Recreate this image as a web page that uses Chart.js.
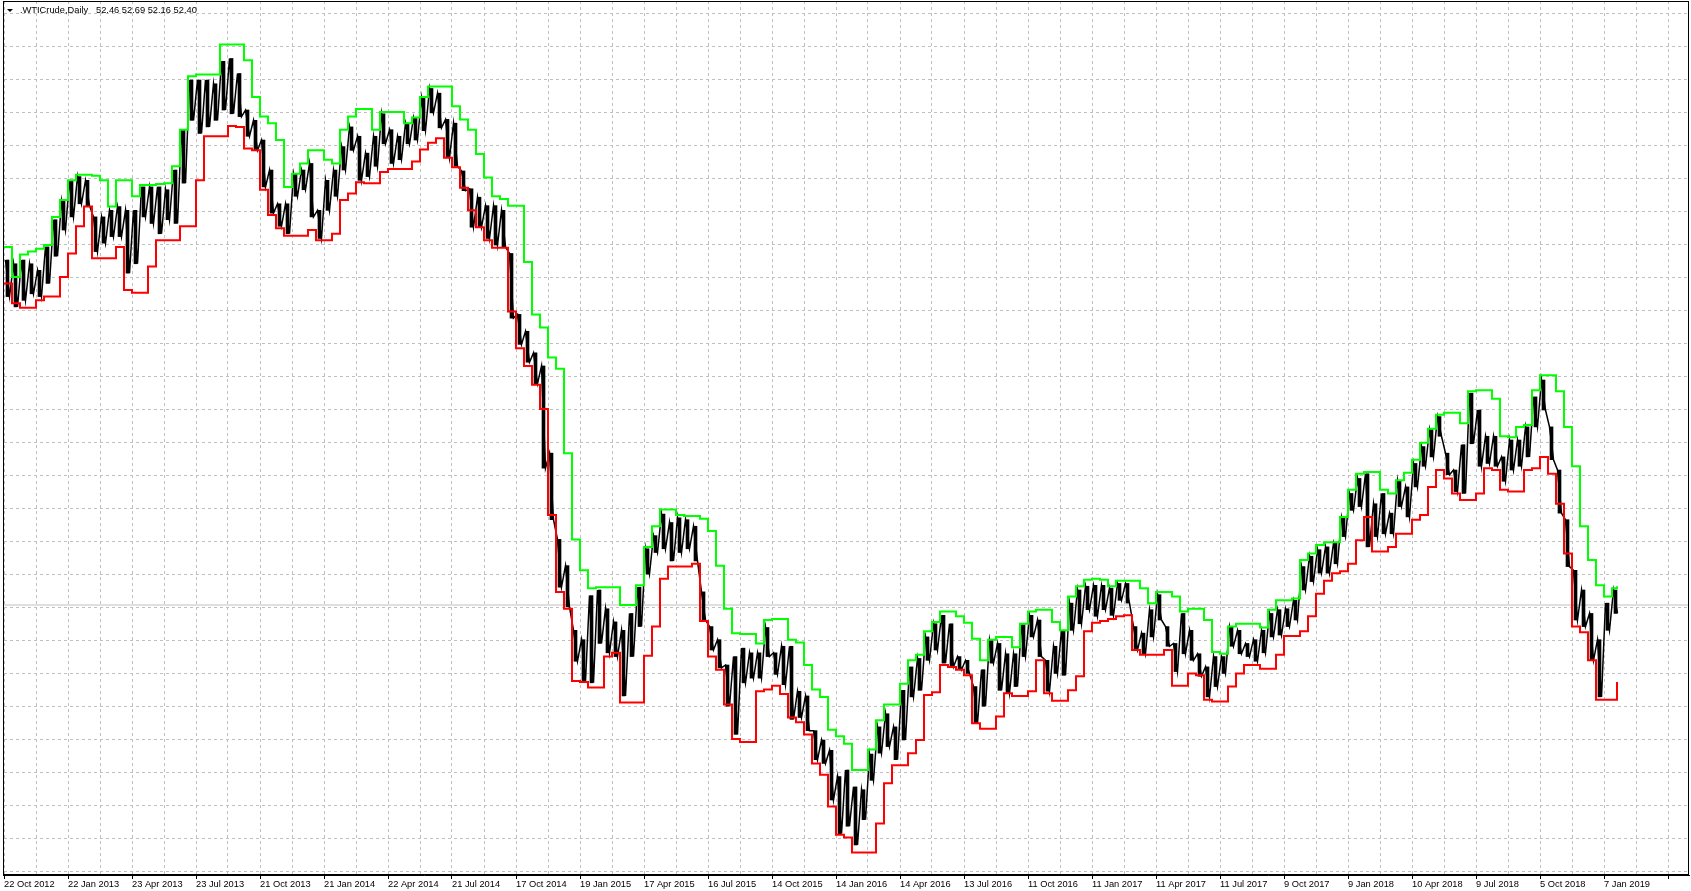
<!DOCTYPE html>
<html>
<head>
<meta charset="utf-8">
<script src="https://cdn.jsdelivr.net/npm/chart.js@4.4.1/dist/chart.umd.min.js"></script>
<style>
  html, body { margin: 0; padding: 0; background: #fff; }
</style>
</head>
<body>
<canvas id="chart" width="1691" height="891"></canvas>
<script>
// header of the chart window
const symbolName = '.WTICrude,Daily';
const lastBar = [52.46, 52.69, 52.16, 52.40]; // open, high, low, close

// time axis: one label every 64 bars, grid every 32
const dateLabels = [
  '22 Oct 2012', '22 Jan 2013', '23 Apr 2013', '23 Jul 2013', '21 Oct 2013',
  '21 Jan 2014', '22 Apr 2014', '21 Jul 2014', '17 Oct 2014', '19 Jan 2015',
  '17 Apr 2015', '16 Jul 2015', '14 Oct 2015', '14 Jan 2016', '14 Apr 2016',
  '13 Jul 2016', '11 Oct 2016', '11 Jan 2017', '11 Apr 2017', '11 Jul 2017',
  '9 Oct 2017', '9 Jan 2018', '10 Apr 2018', '9 Jul 2018', '5 Oct 2018',
  '7 Jan 2019'
];
const barsPerLabel = 64;
const barsPerBlock = 8;    // prices read in blocks of 8 daily bars
const lastBarIndex = 1613;

// price axis range and grid
const priceTop = 116.83;
const priceBottom = 23.60;
const gridTop = 115.49;
const gridStep = 3.52;

// highest / lowest price of each 8-bar block
const blockHigh = [
  89.2, 88.8, 89.2, 88.8, 88.1, 90.6, 93.5, 95.5, 97.7, 98.1,
  97.7, 93.8, 93.8, 94.5, 94.9, 94.5, 94.5, 97.0, 97.0, 97.0,
  96.7, 98.8, 103.1, 108.4, 108.4, 108.4, 108.0, 110.4, 110.7, 109.1,
  105.2, 104.1, 102.0, 98.8, 95.2, 95.2, 98.4, 98.8, 99.5, 94.5,
  97.7, 98.8, 101.3, 103.4, 102.4, 100.6, 102.4, 104.8, 103.1, 102.4,
  103.8, 104.4, 106.5, 107.5, 107.0, 104.2, 103.8, 98.7, 96.8, 95.9,
  95.0, 95.0, 94.5, 89.9, 83.4, 81.6, 79.3, 77.9, 68.6, 59.4,
  56.6, 49.7, 48.7, 53.4, 54.0, 52.0, 50.6, 49.7, 51.5, 54.3,
  58.4, 59.8, 62.1, 61.2, 61.7, 61.5, 60.8, 53.8, 50.1, 48.7,
  46.0, 46.9, 47.8, 47.3, 47.3, 50.0, 47.3, 48.0, 48.0, 43.2,
  42.7, 39.0, 38.0, 36.9, 34.1, 34.8, 33.0, 32.7, 36.5, 39.4,
  40.8, 39.4, 43.3, 45.8, 46.7, 49.0, 50.4, 51.3, 50.4, 46.9,
  46.5, 43.7, 45.5, 48.7, 48.3, 47.2, 47.2, 50.3, 51.3, 50.8,
  46.5, 48.0, 49.7, 52.6, 54.0, 54.4, 54.5, 54.5, 54.2, 54.7,
  54.7, 50.1, 49.4, 51.9, 53.5, 50.1, 48.3, 51.5, 49.7, 47.2,
  45.8, 46.9, 46.9, 50.1, 49.7, 48.3, 48.7, 49.7, 51.5, 51.9,
  52.0, 52.9, 56.5, 57.6, 58.3, 58.6, 59.0, 61.8, 64.3, 65.9,
  66.4, 63.2, 64.3, 62.2, 65.7, 65.0, 67.5, 69.3, 71.1, 72.5,
  68.6, 66.8, 69.5, 75.0, 73.2, 70.4, 70.4, 68.2, 70.0, 70.0,
  71.4, 74.6, 76.4, 71.4, 66.8, 61.5, 56.1, 54.0, 51.5, 48.7,
  52.6, 54.0
];
const blockLow = [
  85.3, 84.2, 84.9, 85.6, 85.3, 86.7, 89.6, 92.4, 93.8, 95.2,
  95.0, 90.1, 91.0, 91.7, 91.7, 87.8, 88.8, 93.8, 93.1, 92.0,
  93.5, 93.1, 97.4, 104.1, 102.7, 103.4, 104.1, 105.2, 104.8, 104.5,
  102.4, 100.9, 97.0, 94.2, 92.8, 92.0, 96.0, 96.7, 93.8, 91.5,
  94.5, 96.0, 98.8, 100.9, 97.7, 98.1, 99.2, 101.6, 99.5, 99.9,
  101.6, 102.0, 103.0, 104.9, 103.3, 100.1, 99.2, 96.6, 92.7, 92.7,
  91.5, 90.8, 90.6, 83.0, 80.2, 78.3, 76.0, 67.0, 61.5, 54.3,
  52.2, 46.4, 44.3, 44.1, 48.3, 47.3, 46.9, 42.7, 46.9, 50.1,
  55.7, 58.0, 58.4, 57.1, 58.0, 58.4, 57.1, 50.8, 47.6, 45.7,
  41.6, 38.6, 44.1, 44.6, 44.6, 46.9, 45.0, 43.9, 40.2, 40.4,
  39.0, 35.9, 35.5, 31.6, 28.0, 28.8, 26.8, 29.5, 33.7, 36.6,
  37.3, 35.9, 38.0, 42.6, 43.3, 46.5, 47.6, 46.2, 45.8, 45.5,
  45.1, 39.8, 41.6, 46.2, 43.3, 43.0, 43.7, 46.9, 49.0, 46.9,
  43.2, 45.1, 44.9, 49.7, 50.4, 51.9, 51.2, 51.9, 51.3, 52.9,
  52.6, 47.6, 47.2, 49.0, 50.8, 48.0, 45.3, 47.2, 46.5, 44.8,
  42.6, 43.7, 45.1, 48.0, 47.2, 46.9, 46.4, 47.3, 49.0, 49.2,
  50.1, 50.8, 54.0, 54.9, 55.8, 55.8, 56.8, 59.7, 62.5, 62.9,
  58.6, 59.7, 60.0, 60.0, 62.9, 61.8, 65.0, 67.2, 68.2, 70.4,
  66.3, 64.5, 64.3, 69.6, 67.2, 67.5, 67.2, 65.6, 66.8, 67.2,
  68.2, 71.4, 73.2, 67.9, 62.2, 56.5, 50.8, 50.1, 46.5, 42.6,
  49.7, 51.5
];

// channel lines (green upper, red lower), one level per 8-bar block
const upperBand = [
  90.6, 87.4, 89.8, 90.1, 90.4, 90.8, 93.8, 95.6, 97.7, 98.3,
  98.3, 98.2, 97.7, 94.9, 97.7, 97.7, 96.0, 97.2, 97.2, 97.3,
  97.4, 99.2, 103.1, 108.8, 109.0, 109.0, 109.0, 112.2, 112.2, 112.2,
  110.5, 106.6, 104.5, 103.8, 102.0, 97.0, 98.4, 99.5, 100.9, 100.9,
  99.9, 99.5, 103.1, 104.5, 105.3, 105.3, 103.1, 105.0, 105.0, 105.0,
  103.8, 104.4, 106.6, 107.7, 107.7, 107.7, 105.6, 104.2, 103.1, 100.5,
  98.0, 96.0, 95.7, 95.0, 95.0, 89.0, 83.4, 82.0, 78.8, 77.6,
  68.6, 59.4, 56.1, 54.2, 54.3, 54.3, 54.3, 52.4, 52.4, 54.5,
  58.6, 60.8, 62.6, 62.6, 62.0, 61.9, 61.9, 61.6, 60.3, 56.6,
  52.0, 49.4, 49.3, 49.3, 48.3, 50.8, 50.9, 50.9, 48.7, 48.4,
  46.0, 43.4, 42.6, 39.1, 38.4, 37.6, 34.8, 34.8, 37.0, 40.1,
  41.8, 41.8, 44.0, 46.5, 47.1, 49.6, 50.6, 51.7, 51.7, 51.2,
  50.5, 48.8, 46.5, 48.7, 49.0, 49.0, 47.9, 50.4, 51.7, 51.9,
  51.9, 50.6, 49.7, 53.3, 54.4, 55.1, 55.2, 55.1, 54.4, 55.0,
  55.0, 55.0, 54.2, 52.6, 53.8, 53.8, 53.3, 51.7, 52.0, 52.0,
  50.8, 47.4, 47.2, 50.1, 50.4, 50.4, 50.4, 50.0, 51.9, 52.9,
  52.9, 53.1, 57.2, 57.9, 58.8, 59.1, 59.1, 61.8, 64.7, 66.4,
  66.6, 66.6, 64.7, 64.3, 65.7, 66.5, 67.9, 69.7, 71.2, 72.7,
  72.9, 72.9, 71.8, 75.2, 75.3, 75.3, 74.4, 70.4, 70.3, 71.4,
  71.6, 75.3, 76.9, 76.9, 75.2, 71.4, 67.2, 60.8, 57.2, 54.5,
  53.3, 54.2
];
const lowerBand = [
  86.7, 84.6, 84.1, 84.1, 84.9, 85.3, 85.3, 87.4, 89.9, 92.8,
  94.9, 89.4, 89.4, 89.4, 90.6, 86.0, 85.7, 85.7, 88.5, 91.3,
  91.3, 91.3, 92.8, 92.8, 97.7, 102.4, 102.4, 102.4, 103.5, 103.4,
  101.1, 100.9, 96.7, 94.0, 92.6, 91.8, 91.8, 91.8, 92.4, 91.3,
  91.3, 92.0, 95.6, 96.3, 97.5, 97.4, 97.4, 98.6, 98.9, 98.9,
  98.9, 99.7, 101.0, 101.7, 102.2, 100.1, 99.1, 96.9, 94.5, 92.7,
  91.3, 90.5, 90.5, 83.7, 79.8, 77.9, 75.9, 73.3, 62.0, 53.8,
  52.0, 44.3, 44.2, 43.6, 43.6, 46.9, 47.3, 42.0, 42.0, 42.0,
  47.0, 50.1, 55.2, 56.5, 56.5, 56.5, 56.8, 50.7, 46.9, 45.5,
  41.8, 38.1, 37.8, 37.8, 43.2, 43.4, 43.8, 42.9, 40.4, 39.9,
  38.6, 35.5, 34.3, 30.9, 27.9, 27.6, 26.0, 26.0, 26.0, 29.1,
  33.4, 35.3, 35.3, 36.6, 38.0, 42.8, 43.1, 46.0, 45.8, 45.5,
  44.9, 39.8, 39.2, 39.2, 40.5, 43.0, 42.7, 42.7, 43.2, 46.5,
  43.0, 42.2, 42.2, 43.3, 44.8, 49.6, 50.5, 50.7, 50.9, 51.2,
  51.3, 47.6, 47.1, 47.1, 47.1, 47.6, 43.8, 43.8, 45.1, 44.9,
  42.3, 42.1, 42.1, 43.7, 45.1, 46.0, 46.0, 45.6, 45.6, 47.1,
  49.1, 49.1, 49.6, 51.2, 53.6, 55.0, 55.8, 56.0, 56.8, 59.3,
  61.8, 58.1, 58.1, 58.6, 60.0, 60.0, 61.5, 62.0, 65.0, 66.8,
  65.9, 64.3, 63.6, 63.6, 64.3, 67.0, 66.8, 64.7, 64.5, 64.5,
  66.8, 67.0, 68.2, 66.4, 63.2, 57.9, 50.1, 49.5, 46.5, 42.3,
  42.3, 42.3
];
const upperLast = 54.4;   // channel values on the very last bar
const lowerLast = 44.2;

// ---- build points ----
const pricePts = [];
const priceBars = [];
blockHigh.forEach((h, k) => {
  pricePts.push({ x: k * barsPerBlock + 1.5, y: h });
  pricePts.push({ x: k * barsPerBlock + 5.5, y: blockLow[k] });
  priceBars.push({ x: k * barsPerBlock + 3.5, y: [blockLow[k], h] });
});

function bandPoints(levels, last) {
  const pts = levels.map((v, k) => ({ x: k * barsPerBlock, y: v }));
  pts.push({ x: lastBarIndex, y: last });
  return pts;
}

const closeLine = [
  { x: -1, y: lastBar[3] },
  { x: 1685, y: lastBar[3] }
];

const FONT = 'Liberation Sans, Arial, sans-serif';

// frame + header text, MT4 style
const framePlugin = {
  id: 'frame',
  afterDraw(chart) {
    const { ctx, chartArea: a } = chart;
    ctx.save();
    ctx.strokeStyle = '#000';
    ctx.lineWidth = 1;
    ctx.strokeRect(a.left + 0.5, a.top + 0.5, a.right - a.left - 1, a.bottom - a.top - 1);

    // little dropdown triangle
    ctx.fillStyle = '#000';
    ctx.beginPath();
    ctx.moveTo(7, 9);
    ctx.lineTo(13, 9);
    ctx.lineTo(10, 12);
    ctx.closePath();
    ctx.fill();

    ctx.font = '9.3px ' + FONT;
    ctx.textBaseline = 'alphabetic';
    ctx.fillText(symbolName, 20, 13);
    ctx.fillText(lastBar.map(v => v.toFixed(2)).join(' '), 96, 13);
    ctx.restore();
  }
};

new Chart(document.getElementById('chart'), {
  type: 'line',
  data: {
    datasets: [
      { label: 'upper', data: bandPoints(upperBand, upperLast), borderColor: '#00ff00', borderWidth: 2, stepped: 'before', pointRadius: 0 },
      { label: 'lower', data: bandPoints(lowerBand, lowerLast), borderColor: '#ff0000', borderWidth: 2, stepped: 'before', pointRadius: 0 },
      { label: 'price', data: pricePts, borderColor: '#000000', borderWidth: 1.5, pointRadius: 0, tension: 0 },
      { type: 'bar', label: 'range', data: priceBars, backgroundColor: '#000000', borderWidth: 0, barThickness: 3, grouped: false },
      { label: 'close', data: closeLine, borderColor: '#c0c0c0', borderWidth: 1, pointRadius: 0 }
    ]
  },
  options: {
    responsive: false,
    animation: false,
    devicePixelRatio: 1,
    events: [],
    layout: { autoPadding: false, padding: { left: 3, right: 2, top: 1, bottom: 0 } },
    plugins: {
      legend: { display: false },
      tooltip: { enabled: false },
      title: { display: false }
    },
    scales: {
      x: {
        type: 'linear',
        min: -1,
        max: 1685,
        offset: false,
        afterBuildTicks: s => {
          const t = [];
          for (let v = 0; v <= 1684; v += barsPerLabel / 2) t.push({ value: v });
          s.ticks = t;
        },
        afterFit: s => { s.height = 16; },
        ticks: {
          autoSkip: false,
          maxRotation: 0,
          minRotation: 0,
          align: 'start',
          padding: 0,
          color: '#000',
          font: { family: FONT, size: 9.3 },
          callback: (v, i) => (i % 2 === 0 && dateLabels[i / 2]) ? dateLabels[i / 2] : ''
        },
        grid: {
          offset: false,
          color: '#c0c0c0',
          lineWidth: 1,
          tickLength: 4,
          tickWidth: 1,
          tickColor: c => (c.index % 2 === 0 ? '#000' : 'rgba(0,0,0,0)')
        },
        border: { display: true, color: '#000', width: 1, dash: [3, 3] }
      },
      y: {
        type: 'linear',
        min: priceBottom,
        max: priceTop,
        afterBuildTicks: s => {
          const t = [];
          for (let v = gridTop; v > priceBottom; v -= gridStep) t.push({ value: v });
          s.ticks = t;
        },
        afterFit: s => { s.width = 0; },
        ticks: { display: false },
        grid: { color: '#c0c0c0', lineWidth: 1, drawTicks: false },
        border: { display: true, color: '#000', width: 1, dash: [3, 3] }
      }
    }
  },
  plugins: [framePlugin]
});
</script>
</body>
</html>
